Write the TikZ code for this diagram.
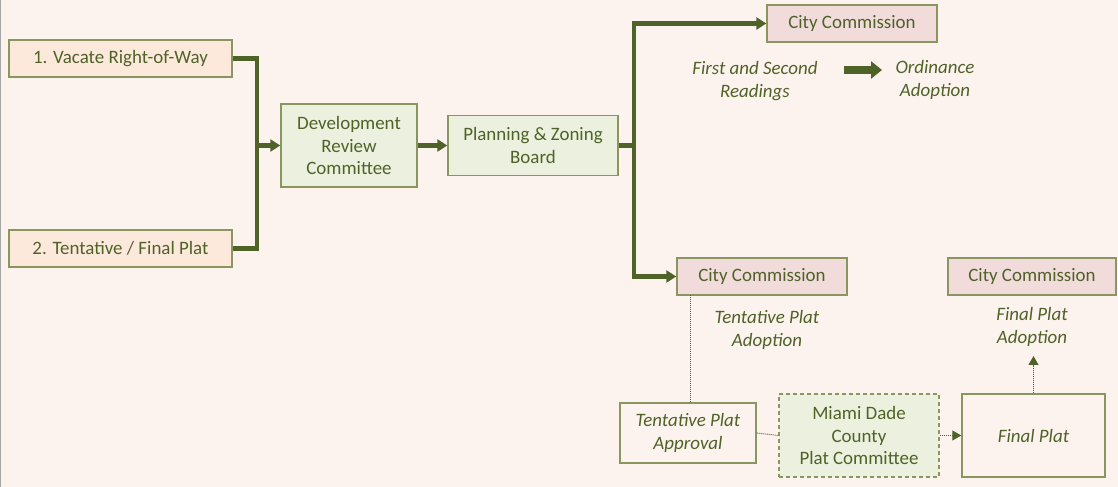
\documentclass[tikz,border=0pt]{standalone}
\usepackage{fontspec}
\setmainfont{Carlito}
\usetikzlibrary{arrows.meta}
\definecolor{bg}{HTML}{FDF3EE}
\definecolor{olv}{HTML}{4F6228}
\definecolor{bord}{HTML}{8A9660}
\definecolor{peach}{HTML}{FDE9DC}
\definecolor{lgreen}{HTML}{EBF1DE}
\definecolor{pink}{HTML}{F2DCDB}
\tikzset{
  box/.style={draw=bord, line width=1.4bp, text=olv, align=center, inner sep=2bp,
    font=\fontsize{19}{23}\selectfont},
  peachbox/.style={box, fill=peach},
  greenbox/.style={box, fill=lgreen},
  pinkbox/.style={box, fill=pink},
  plainbox/.style={box},
  dashbox/.style={box, fill=lgreen, dashed, dash pattern=on 4bp off 3bp},
  itext/.style={text=olv, align=center, font=\fontsize{19}{23}\selectfont\itshape},
  conn/.style={draw=olv, line width=4.5bp},
  arr/.style={conn, -{Triangle[length=10bp,width=12bp]}},
  dotline/.style={draw=olv, line width=1bp, dash pattern=on 1bp off 1bp},
  dotarr/.style={dotline, -{Triangle[length=9bp,width=10bp]}},
}
\begin{document}
\begin{tikzpicture}[x=1bp, y=-1bp]
\fill[bg] (0,0) rectangle (1118,487);
\useasboundingbox (0,0) rectangle (1118,487);
\draw[gray!70, line width=1.5bp] (0.75,0) -- (0.75,487);

\node[peachbox, minimum width=223bp, minimum height=37bp] (b1) at (120.5,58.5) {1. Vacate Right-of-Way};
\node[peachbox, minimum width=223bp, minimum height=37bp] (b2) at (120.5,248.5) {2. Tentative / Final Plat};
\node[greenbox, minimum width=136bp, minimum height=83bp] (drc) at (349,145.5) {Development\\Review\\Committee};
\node[greenbox, minimum width=170bp, minimum height=60bp] (pzb) at (533,145.5) {Planning \& Zoning\\Board};
\node[pinkbox, minimum width=170bp, minimum height=37bp] (cc1) at (852,23.5) {City Commission};
\node[pinkbox, minimum width=170bp, minimum height=37bp] (cc2) at (762,276.5) {City Commission};
\node[pinkbox, minimum width=168bp, minimum height=37bp] (cc3) at (1032,276.5) {City Commission};
\node[plainbox, minimum width=136bp, minimum height=60bp, font=\fontsize{19}{23}\selectfont\itshape] (tpa) at (688,433) {Tentative Plat\\Approval};
\node[dashbox, minimum width=160bp, minimum height=83bp] (mdc) at (859,435.5) {Miami Dade\\County\\Plat Committee};
\node[plainbox, minimum width=143bp, minimum height=83bp, font=\fontsize{19}{23}\selectfont\itshape] (fp) at (1033.5,435.5) {Final Plat};

\node[itext] (fsr) at (755,81) {First and Second\\Readings};
\node[itext] (ord) at (935,80) {Ordinance\\Adoption};
\node[itext] (tpad) at (767,330) {Tentative Plat\\Adoption};
\node[itext] (fpad) at (1032,327) {Final Plat\\Adoption};

\coordinate (j1) at (257,145.5);
\coordinate (j2) at (634,145.5);
\coordinate (ta) at (844,70);
\coordinate (tb) at (882,70);
\coordinate (d1) at (690,295);
\coordinate (d2) at (690,403);
\coordinate (up) at (1033.5,356);

\draw[conn] (b1.east) -| (j1);
\draw[conn] (b2.east) -| (j1);
\draw[arr] (j1) -- (drc.west);
\draw[arr] (drc.east) -- (pzb.west);
\draw[conn] (pzb.east) -- (j2);
\draw[arr] (j2) |- (cc1.west);
\draw[arr] (j2) |- (cc2.west);
\draw[draw=olv, line width=8bp, -{Triangle[length=11bp,width=17bp]}] (ta) -- (tb);

\draw[dotline] (d1) -- (d2);
\draw[dotline] (tpa.east) -- (mdc.west);
\draw[dotarr] (mdc.east) -- (fp.west);
\draw[dotarr] (fp.north) -- (up);
\end{tikzpicture}
\end{document}
